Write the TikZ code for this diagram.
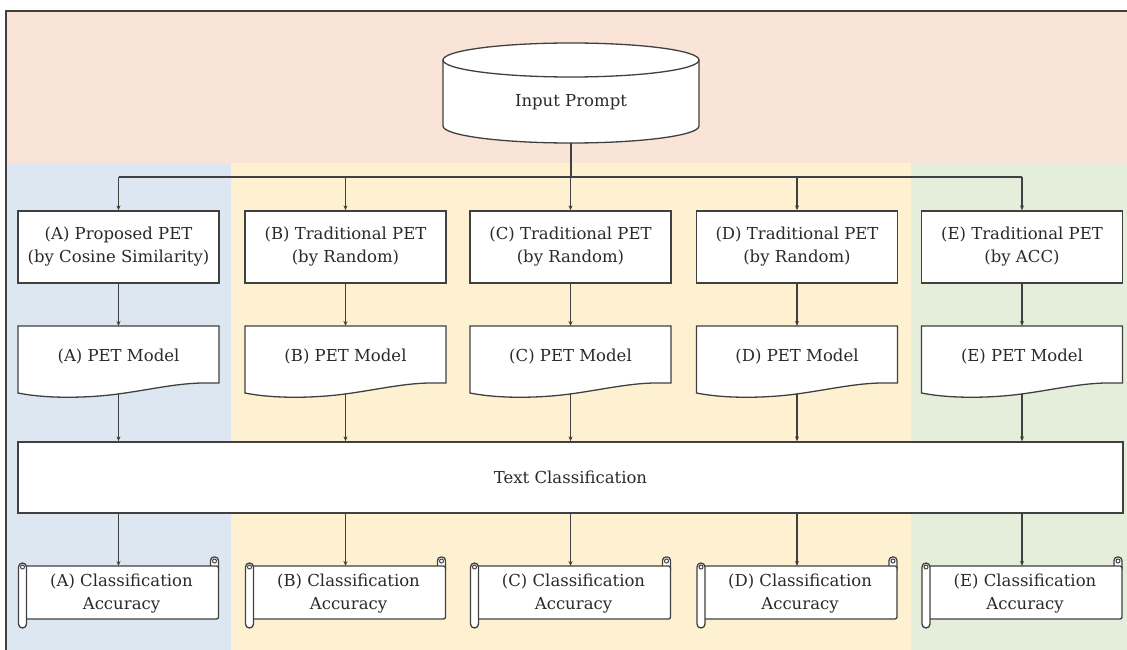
\documentclass[tikz,border=0pt]{standalone}
\usepackage{fontspec}
\setmainfont{DejaVu Serif}
\usetikzlibrary{arrows.meta}
\definecolor{peach}{HTML}{FAE4D7}
\definecolor{bluebg}{HTML}{DDE7F2}
\definecolor{yellowbg}{HTML}{FEF1D2}
\definecolor{greenbg}{HTML}{E4EEDA}
\definecolor{ink}{HTML}{404040}
\definecolor{txt}{HTML}{2A2A2A}
\begin{document}
\begin{tikzpicture}[x=1pt,y=-1pt,line width=1.3pt,
  every node/.style={text=txt,font=\fontsize{16.5}{23}\selectfont,align=center},
  procbox/.style={draw=ink,fill=white,minimum width=201pt,minimum height=72pt,inner sep=0pt},
  shapeline/.style={draw=ink,fill=white,line width=1.3pt},
  conn/.style={draw=ink,line width=1.1pt},
  arr/.style={conn,-{Stealth[length=5pt,width=4pt]}}]
\useasboundingbox (0,0) rectangle (1127,650);
% background bands
\fill[peach] (6,11) rectangle (1127,163);
\fill[bluebg] (6,163) rectangle (231,650);
\fill[yellowbg] (231,163) rectangle (911,650);
\fill[greenbg] (911,163) rectangle (1127,650);
\draw[ink,line width=1.6pt] (6,650) -- (6,11) -- (1127,11);
% cylinder
\fill[white] (443,60) -- (443,126) .. controls (443,135.4) and (500.3,143) .. (571,143) .. controls (641.7,143) and (699,135.4) .. (699,126) -- (699,60) -- cycle;
\draw[ink] (443,60) -- (443,126) .. controls (443,135.4) and (500.3,143) .. (571,143) .. controls (641.7,143) and (699,135.4) .. (699,126) -- (699,60);
\draw[shapeline] (571,60) ellipse [x radius=128, y radius=17];
\node (ip) at (571,102) {Input Prompt};
\coordinate (ipb) at (571,143);
\coordinate (busL) at (118.5,177);
\coordinate (busR) at (1022,177);
\draw[conn] (ipb) -- (ipb |- busL);
\draw[conn] (busL) -- (busR);
% text classification
\node[procbox,minimum width=1105pt,minimum height=71pt] (tc) at (570.5,477.5) {Text Classification};
% columns
\foreach \cx/\L/\kind/\sub in {118.5/A/Proposed/{(by Cosine Similarity)},345.5/B/Traditional/{(by Random)},570.5/C/Traditional/{(by Random)},797/D/Traditional/{(by Random)},1022/E/Traditional/{(by ACC)}}{
  \node[procbox] (p\L) at (\cx,247) {(\L) \kind{} PET\\\sub};
  \draw[arr] (p\L.north |- busL) -- (p\L.north);
  % document shape
  \pgfmathsetmacro{\xo}{\cx-100.5}
  \pgfmathsetmacro{\xi}{\cx+100.5}
  \draw[shapeline] (\xo,326) -- (\xi,326) -- (\xi,383) -- (\xo+186,383) .. controls (\xo+160,383) and (\xo+130,390) .. (\xo+100,394) .. controls (\xo+70,398) and (\xo+30,399) .. (\xo,393) -- cycle;
  \node (m\L) at (\cx,357) {(\L) PET Model};
  \coordinate (mb\L) at (\cx,394);
  \draw[arr] (p\L.south) -- (\cx,326);
  \draw[arr] (mb\L) -- (mb\L |- tc.north);
  % scroll shape
  \pgfmathsetmacro{\sl}{\cx-100}
  \pgfmathsetmacro{\sr}{\cx+100}
  \draw[shapeline,rounded corners=3.5pt] (\sr-8,570) -- (\sr-8,557) -- (\sr,557) -- (\sr,570);
  \draw[ink,line width=1pt] (\sr-4,561) circle [radius=2];
  \draw[shapeline,rounded corners=2pt] (\sl+4,566) rectangle (\sr,619);
  \draw[shapeline,rounded corners=4pt] (\sl,563) rectangle (\sl+8,628);
  \draw[ink,line width=1pt] (\sl+4,567) circle [radius=2];
  \node (s\L) at (\cx+3,594) {(\L) Classification\\Accuracy};
  \draw[arr] (tc.south -| mb\L) -- (\cx,566);
}
\end{tikzpicture}
\end{document}
